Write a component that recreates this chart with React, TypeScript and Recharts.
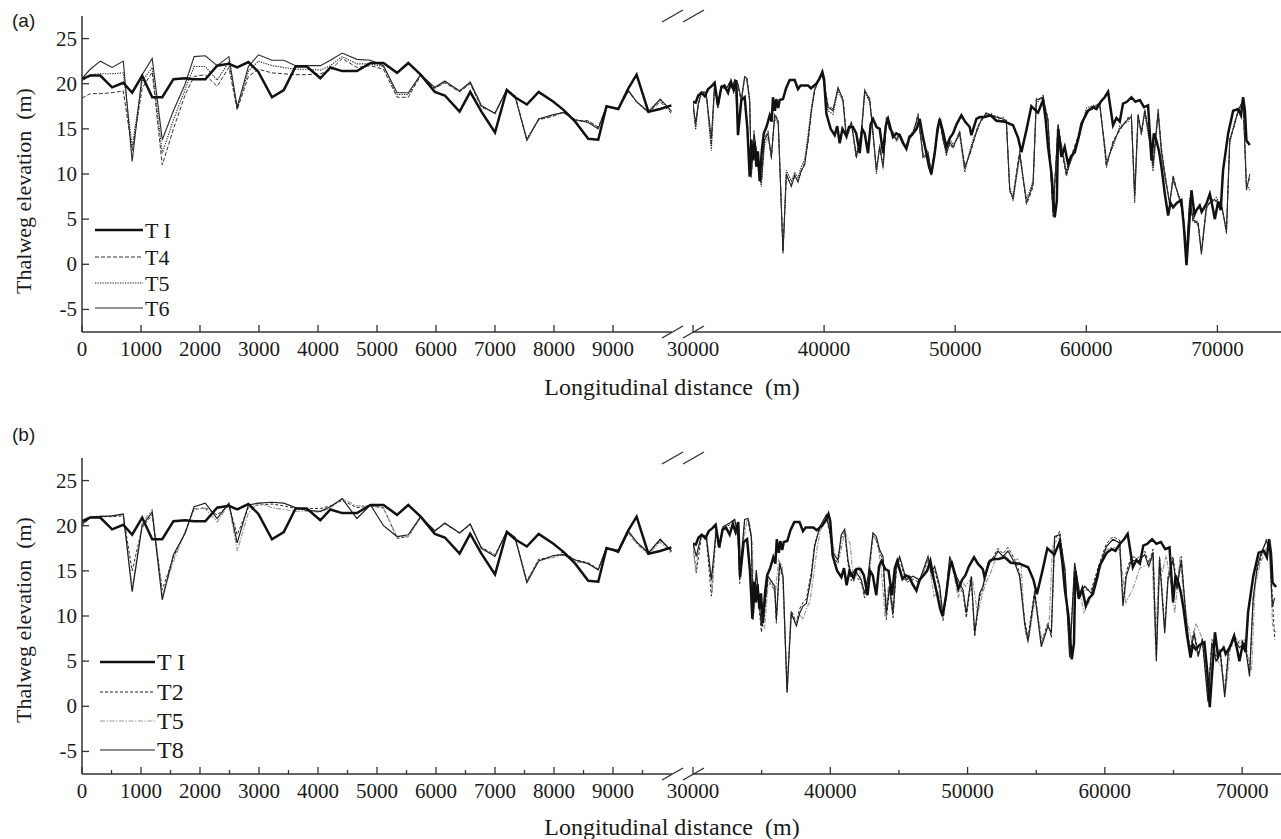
import React from 'react';
import { LineChart, Line, XAxis, YAxis } from 'recharts';

// ---------- data: left segment (0 - 10000 m), common cross-section stations ----------
const LEFT_X = [0, 140, 310, 510, 700, 850, 1020, 1190, 1360, 1550, 1750, 1900, 2090, 2290, 2490, 2630, 2820, 2990, 3220, 3420, 3620, 3810, 4040, 4210, 4410, 4660, 4890, 5110, 5340, 5530, 5740, 5980, 6150, 6400, 6580, 6770, 7000, 7200, 7340, 7540, 7740, 7990, 8160, 8360, 8580, 8750, 8890, 9090, 9260, 9400, 9600, 9800, 9990];

const TI_LEFT = [20.5, 20.9, 20.9, 19.6, 20.1, 19.0, 20.9, 18.5, 18.5, 20.5, 20.6, 20.5, 20.5, 22.0, 22.2, 21.8, 22.4, 21.3, 18.5, 19.3, 21.9, 21.9, 20.6, 21.8, 21.4, 21.4, 22.3, 22.3, 21.2, 22.3, 21.0, 19.1, 18.7, 16.9, 19.1, 16.9, 14.6, 19.3, 18.5, 17.7, 19.1, 18.0, 17.1, 15.8, 13.9, 13.8, 17.5, 17.2, 19.5, 21.0, 16.9, 17.2, 17.6];
const T4_LEFT = [18.4, 18.9, 18.9, 19.0, 19.2, 12.6, 19.5, 21.3, 11.0, 15.0, 18.8, 20.8, 21.0, 19.7, 21.8, 17.1, 20.8, 21.6, 21.2, 21.1, 21.0, 21.0, 21.1, 21.5, 22.8, 21.8, 22.0, 21.6, 18.5, 18.5, 20.9, 19.5, 20.1, 19.1, 20.0, 17.4, 16.8, 19.3, 18.7, 13.8, 16.0, 16.4, 16.9, 15.9, 15.9, 15.2, 17.4, 17.2, 19.1, 18.0, 16.8, 18.0, 16.7];
const T5_LEFT = [20.3, 21.0, 21.1, 21.1, 21.2, 13.0, 20.3, 21.8, 12.3, 16.0, 19.4, 21.9, 21.9, 20.4, 22.4, 17.2, 21.4, 22.5, 22.0, 21.8, 21.6, 21.6, 21.5, 22.0, 23.0, 22.2, 22.2, 21.9, 18.8, 18.8, 21.0, 19.5, 20.2, 19.2, 20.1, 17.5, 16.7, 19.3, 18.6, 13.9, 16.1, 16.5, 16.8, 16.0, 15.8, 15.1, 17.5, 17.2, 19.2, 18.0, 16.8, 18.2, 16.9];
const T6_LEFT = [20.6, 21.6, 22.5, 21.8, 22.5, 11.4, 21.0, 22.8, 13.8, 17.0, 20.0, 23.0, 23.1, 22.0, 23.0, 17.4, 21.9, 23.2, 22.6, 22.6, 22.0, 22.0, 22.0, 22.6, 23.4, 22.7, 22.6, 22.0, 19.0, 19.0, 21.0, 19.6, 20.3, 19.2, 20.2, 17.6, 16.7, 19.4, 18.6, 13.7, 16.1, 16.6, 16.8, 16.0, 15.7, 15.0, 17.5, 17.2, 19.3, 18.0, 16.9, 18.3, 17.0];
const T2_LEFT = [20.0, 20.9, 21.0, 21.0, 21.1, 15.0, 19.8, 21.2, 12.9, 16.5, 19.3, 21.8, 22.0, 21.2, 22.2, 19.0, 22.0, 22.3, 22.4, 22.2, 21.9, 21.9, 21.9, 22.2, 22.8, 22.0, 22.2, 22.0, 18.6, 18.8, 20.9, 19.5, 20.2, 19.2, 20.1, 17.6, 16.8, 19.3, 18.7, 13.9, 16.3, 16.5, 17.1, 16.2, 15.9, 15.2, 17.5, 17.1, 19.2, 18.1, 16.9, 18.4, 17.1];
const T8_LEFT = [20.2, 20.9, 21.0, 21.1, 21.3, 12.7, 20.0, 21.5, 11.8, 16.8, 19.2, 22.1, 22.5, 20.8, 22.5, 18.1, 22.3, 22.5, 22.6, 22.5, 22.0, 21.7, 21.6, 22.1, 23.0, 20.8, 22.3, 20.0, 18.8, 19.0, 21.0, 19.4, 20.3, 19.2, 20.2, 17.5, 16.6, 19.4, 18.7, 13.7, 16.1, 16.7, 16.8, 16.2, 15.8, 15.1, 17.6, 17.0, 19.4, 18.2, 17.0, 18.5, 17.2];

// ---------- data: right segment (30000 m - end), [distance, elevation] ----------
const TI_RIGHT = [[30000,18.0],[30200,17.9],[30400,18.7],[30640,19.0],[30900,18.6],[31150,19.4],[31400,19.7],[31650,20.1],[31900,17.6],[32160,19.6],[32400,19.8],[32670,19.0],[32900,20.2],[33100,19.3],[33300,20.4],[33430,14.3],[33690,18.2],[33940,18.5],[34150,15.0],[34323,9.7],[34450,13.8],[34577,11.5],[34700,13.5],[34832,10.8],[34950,12.5],[35086,9.2],[35250,12.6],[35400,14.5],[35600,15.2],[35850,16.5],[36000,15.8],[36103,18.5],[36250,17.0],[36358,18.3],[36500,17.3],[36612,18.2],[36866,18.3],[37100,19.5],[37375,20.4],[37756,20.4],[38010,19.4],[38200,19.8],[38392,19.8],[38773,19.8],[39000,19.5],[39409,20.0],[39663,20.6],[39867,21.3],[40000,20.5],[40172,16.7],[40500,15.0],[40808,14.3],[41000,15.3],[41189,13.4],[41400,15.0],[41698,14.2],[41900,15.2],[42206,15.2],[42450,14.5],[42715,12.3],[42900,15.0],[43096,14.5],[43351,12.3],[43550,15.5],[43732,16.1],[44000,15.2],[44241,15.0],[44495,12.3],[44700,15.3],[44877,16.1],[45258,14.1],[45500,14.5],[45767,14.3],[46000,13.5],[46275,12.8],[46500,14.0],[46784,14.5],[47050,15.0],[47292,16.1],[47550,14.0],[47801,12.3],[48000,10.8],[48182,10.0],[48437,12.3],[48650,15.0],[48818,16.1],[49100,14.5],[49327,13.0],[49600,14.0],[49835,14.5],[50100,15.5],[50471,16.5],[50750,15.8],[51107,15.2],[51234,14.3],[51616,16.1],[51870,16.3],[52250,16.3],[52700,16.5],[53140,15.9],[53780,15.8],[54410,15.4],[54800,14.0],[55050,12.4],[55450,15.0],[55810,17.5],[56320,16.8],[56700,18.2],[56900,16.0],[57080,13.0],[57350,10.0],[57590,5.2],[57750,7.0],[57850,15.0],[58100,11.9],[58350,13.0],[58610,11.1],[58850,12.0],[59120,12.4],[59400,14.0],[59630,15.6],[60130,17.0],[60500,17.4],[60770,17.2],[61100,18.0],[61400,18.5],[61660,19.1],[62040,15.4],[62300,16.2],[62550,15.8],[62800,17.8],[63100,18.0],[63440,18.5],[63750,18.0],[64080,18.2],[64400,17.4],[64710,17.6],[64970,11.5],[65150,14.5],[65350,13.7],[65550,12.5],[65730,10.8],[65990,7.8],[66240,5.4],[66420,6.8],[66620,6.3],[66900,6.8],[67250,7.1],[67450,4.0],[67640,-0.1],[68020,8.2],[68250,5.5],[68400,6.0],[68650,6.5],[68800,5.8],[69160,6.7],[69420,7.8],[69650,6.2],[69800,5.0],[70050,6.9],[70250,6.0],[70430,10.4],[70820,14.5],[71200,17.0],[71580,17.2],[71800,16.5],[71960,18.5],[72100,17.0],[72215,13.7],[72470,13.2]];

const T4_RIGHT = [[30000,17.9],[30200,15.2],[30400,17.7],[30640,19.1],[31000,19.1],[31400,13.2],[31650,20.1],[31900,17.3],[32160,19.7],[32500,19.3],[32800,20.2],[33000,19.4],[33180,20.5],[33430,19.6],[33690,18.0],[33940,20.7],[34100,20.7],[34320,18.4],[34450,9.6],[34650,14.8],[34900,11.6],[35210,9.0],[35450,13.9],[35720,14.8],[35980,11.6],[36230,16.7],[36500,16.0],[36866,1.4],[37120,9.8],[37500,8.8],[37760,9.7],[38010,9.3],[38260,10.2],[38520,11.3],[38770,13.4],[39030,16.8],[39280,19.2],[39660,20.8],[39870,21.2],[40300,17.6],[40680,17.2],[41060,19.4],[41440,18.4],[41700,14.3],[42080,15.6],[42460,11.7],[42840,14.7],[43100,19.1],[43480,18.4],[43730,14.3],[43990,10.6],[44240,12.8],[44500,11.0],[44750,16.3],[45000,14.8],[45260,14.7],[45500,13.6],[45770,14.1],[46000,13.3],[46280,13.2],[46500,14.4],[46780,14.3],[47170,16.7],[47550,11.7],[47930,12.1],[48180,10.3],[48560,13.9],[48820,16.3],[49050,13.8],[49330,12.5],[49600,13.3],[49840,12.8],[50340,14.8],[50730,10.9],[51110,12.1],[51360,13.3],[51740,15.4],[52000,15.8],[52380,16.9],[52760,16.3],[53140,16.5],[53650,15.9],[53900,16.1],[54160,8.0],[54410,7.6],[54920,12.6],[55430,6.6],[55680,7.5],[55940,8.6],[56190,18.4],[56700,18.3],[57080,16.2],[57460,5.3],[57850,15.6],[58100,12.8],[58480,9.7],[58990,12.6],[59500,14.7],[60000,16.8],[60520,17.2],[61020,18.0],[61400,12.7],[61530,10.7],[62040,13.7],[62550,14.8],[63190,16.3],[63440,16.1],[63690,7.8],[63950,16.7],[64200,14.3],[64460,17.2],[64840,13.9],[65090,11.1],[65480,17.2],[65730,12.9],[65990,10.2],[66360,6.5],[66620,9.9],[67130,6.9],[67380,5.8],[67640,1.0],[67890,6.9],[68150,4.6],[68530,4.8],[68780,1.3],[69160,6.1],[69540,7.3],[69920,6.9],[70300,6.9],[70690,3.4],[70940,13.9],[71320,15.4],[71580,17.2],[71960,18.0],[72215,8.6],[72470,9.5]];

const T5_RIGHT = [[30000,17.6],[30200,14.9],[30400,17.6],[30640,18.9],[31000,18.9],[31400,12.6],[31650,19.8],[31900,17.6],[32160,19.6],[32500,19.5],[32800,20.0],[33000,19.6],[33180,20.3],[33430,15.5],[33690,18.5],[33940,20.6],[34100,20.5],[34320,18.0],[34450,10.3],[34650,14.0],[34900,11.2],[35210,8.6],[35450,13.2],[35720,14.0],[35980,12.2],[36230,16.2],[36500,15.5],[36866,1.6],[37120,10.4],[37500,9.2],[37760,10.2],[38010,9.6],[38260,10.8],[38520,11.6],[38770,14.3],[39030,17.4],[39280,19.5],[39660,20.5],[39870,21.0],[40300,17.0],[40680,16.6],[41060,19.3],[41440,18.0],[41700,13.8],[42080,15.5],[42460,12.2],[42840,14.2],[43100,19.0],[43480,18.0],[43730,14.8],[43990,10.0],[44240,13.3],[44500,10.5],[44750,15.8],[45000,15.2],[45260,14.2],[45500,14.0],[45770,14.5],[46000,13.8],[46280,12.8],[46500,14.0],[46780,14.8],[47170,16.2],[47550,12.2],[47930,12.6],[48180,9.8],[48560,13.4],[48820,15.8],[49050,14.2],[49330,12.0],[49600,13.8],[49840,13.3],[50340,14.3],[50730,10.2],[51110,12.6],[51360,13.8],[51740,15.0],[52000,16.2],[52380,16.5],[52760,16.7],[53140,16.0],[53650,16.3],[53900,15.6],[54160,8.6],[54410,7.0],[54920,12.0],[55430,7.3],[55680,8.1],[55940,9.3],[56190,17.8],[56700,18.7],[57080,15.5],[57460,6.0],[57850,15.0],[58100,13.3],[58480,10.4],[58990,12.0],[59500,14.2],[60000,17.3],[60520,17.6],[61020,17.5],[61400,13.4],[61530,11.5],[62040,13.0],[62550,15.3],[63190,15.8],[63440,16.5],[63690,6.8],[63950,16.2],[64200,14.8],[64460,16.7],[64840,13.3],[65090,10.3],[65480,16.6],[65730,12.2],[65990,9.5],[66360,7.0],[66620,9.2],[67130,7.4],[67380,5.2],[67640,1.6],[67890,7.4],[68150,5.2],[68530,4.2],[68780,1.5],[69160,6.6],[69540,6.8],[69920,7.4],[70300,6.4],[70690,4.0],[70940,13.3],[71320,15.9],[71580,16.7],[71960,18.4],[72215,9.0],[72470,8.2]];

const T6_RIGHT = [[30000,17.8],[30200,15.6],[30400,17.8],[30640,19.0],[31000,19.0],[31400,13.9],[31650,20.0],[31900,17.4],[32160,19.8],[32500,19.4],[32800,20.1],[33000,19.5],[33180,20.4],[33430,20.0],[33690,18.2],[33940,20.8],[34100,20.6],[34320,18.2],[34450,9.9],[34650,14.5],[34900,11.9],[35210,9.3],[35450,13.7],[35720,14.5],[35980,11.9],[36230,16.5],[36500,15.8],[36866,1.2],[37120,10.0],[37500,8.6],[37760,9.9],[38010,9.1],[38260,10.4],[38520,11.0],[38770,13.7],[39030,17.0],[39280,19.3],[39660,20.7],[39870,21.1],[40300,17.4],[40680,17.0],[41060,19.6],[41440,18.2],[41700,14.1],[42080,15.8],[42460,11.9],[42840,14.5],[43100,19.3],[43480,18.2],[43730,14.5],[43990,10.4],[44240,13.0],[44500,10.8],[44750,16.1],[45000,15.0],[45260,14.5],[45500,13.8],[45770,14.3],[46000,13.5],[46280,13.0],[46500,14.2],[46780,14.5],[47170,16.5],[47550,11.9],[47930,12.3],[48180,10.0],[48560,13.7],[48820,16.1],[49050,14.0],[49330,12.3],[49600,13.5],[49840,13.0],[50340,14.6],[50730,10.6],[51110,12.3],[51360,13.5],[51740,15.2],[52000,16.0],[52380,16.7],[52760,16.5],[53140,16.3],[53650,16.1],[53900,15.9],[54160,8.2],[54410,7.3],[54920,12.3],[55430,6.9],[55680,7.8],[55940,8.9],[56190,18.2],[56700,18.5],[57080,15.9],[57460,5.6],[57850,15.4],[58100,13.0],[58480,10.0],[58990,12.3],[59500,14.5],[60000,17.0],[60520,17.4],[61020,17.8],[61400,13.0],[61530,11.0],[62040,13.4],[62550,15.0],[63190,16.1],[63440,16.3],[63690,7.5],[63950,16.5],[64200,14.5],[64460,17.0],[64840,13.7],[65090,10.8],[65480,17.0],[65730,12.6],[65990,9.9],[66360,6.7],[66620,9.6],[67130,7.1],[67380,5.6],[67640,1.2],[67890,7.1],[68150,4.9],[68530,4.5],[68780,1.1],[69160,6.3],[69540,7.1],[69920,7.1],[70300,6.7],[70690,3.6],[70940,13.7],[71320,15.6],[71580,17.0],[71960,18.2],[72215,8.2],[72470,10.0]];

const T2_RIGHT = [[30000,17.8],[30240,14.8],[30610,18.8],[30970,18.6],[31340,12.2],[31700,19.4],[31950,17.5],[32190,19.7],[32670,20.1],[33040,20.5],[33280,18.5],[33400,13.6],[33760,20.4],[34010,20.6],[34250,18.5],[34370,9.6],[34610,14.6],[34980,8.2],[35220,10.6],[35460,14.0],[35950,12.8],[36070,9.2],[36310,15.5],[36560,14.0],[36850,1.8],[37160,10.6],[37530,9.3],[37770,10.8],[38010,11.5],[38260,11.9],[38620,14.9],[38860,18.0],[39230,19.6],[39710,20.9],[39950,19.2],[40200,16.6],[40560,15.8],[40800,18.6],[41050,19.3],[41290,15.8],[41530,13.9],[41780,14.7],[42260,13.6],[42500,12.0],[42750,14.0],[43110,18.9],[43350,18.4],[43600,17.0],[43840,16.2],[44080,9.6],[44320,13.0],[44570,9.8],[44810,15.1],[45050,16.3],[45540,13.7],[46020,14.1],[46510,13.7],[47120,16.3],[47360,14.4],[47600,15.1],[47970,12.9],[48210,9.5],[48450,12.1],[48700,16.3],[49180,14.0],[49670,12.5],[49910,9.8],[50270,14.0],[50520,7.7],[50880,12.1],[51120,13.0],[51490,15.5],[51850,16.5],[52220,17.5],[52580,16.9],[52940,17.6],[53430,16.3],[53790,14.8],[54160,9.6],[54400,7.6],[54890,12.9],[55370,7.0],[55860,9.3],[56100,7.6],[56340,18.4],[56710,19.4],[57100,14.6],[57440,5.8],[57800,15.5],[58160,12.1],[58530,12.9],[59010,12.9],[59620,15.9],[60110,18.0],[60590,18.8],[61080,18.4],[61320,11.6],[61560,14.9],[61930,16.6],[62400,16.4],[62900,17.2],[63200,15.9],[63510,17.4],[63750,5.6],[63990,16.6],[64360,8.6],[64600,14.4],[64960,16.6],[65250,13.4],[65570,16.6],[65930,9.2],[66200,6.4],[66500,8.4],[66800,5.9],[67100,7.1],[67300,4.4],[67510,1.0],[67800,7.4],[68100,5.4],[68400,6.4],[68730,1.5],[69000,6.4],[69400,7.9],[69800,6.9],[70200,7.4],[70540,3.8],[70800,11.6],[71100,15.1],[71400,16.6],[71760,18.5],[72000,18.4],[72200,12.0],[72370,7.4]];

const T8_RIGHT = [[30000,18.1],[30240,16.6],[30610,19.0],[30970,18.8],[31340,14.0],[31700,19.6],[31950,17.8],[32190,19.9],[32670,20.3],[33040,20.7],[33280,18.8],[33400,14.4],[33760,20.7],[34010,20.8],[34250,18.8],[34370,10.0],[34610,15.1],[34980,8.9],[35220,11.1],[35460,14.4],[35950,13.3],[36070,9.6],[36310,15.9],[36560,14.4],[36850,1.5],[37160,10.3],[37530,8.9],[37770,10.3],[38010,11.1],[38260,11.4],[38620,14.4],[38860,17.7],[39230,19.9],[39710,21.2],[39950,19.6],[40200,17.0],[40560,16.2],[40800,19.0],[41050,19.6],[41290,16.2],[41530,14.4],[41780,15.1],[42260,14.0],[42500,12.5],[42750,14.4],[43110,19.2],[43350,18.8],[43600,17.3],[43840,16.6],[44080,10.3],[44320,13.3],[44570,10.3],[44810,15.5],[45050,16.6],[45540,14.0],[46020,14.4],[46510,14.0],[47120,16.6],[47360,14.8],[47600,15.5],[47970,13.3],[48210,10.0],[48450,12.5],[48700,16.6],[49180,14.4],[49670,12.9],[49910,10.3],[50270,14.4],[50520,8.1],[50880,12.5],[51120,13.3],[51490,15.9],[51850,16.2],[52220,17.2],[52580,16.6],[52940,17.2],[53430,15.9],[53790,14.4],[54160,9.2],[54400,7.2],[54890,12.5],[55370,6.6],[55860,8.9],[56100,8.1],[56340,18.8],[56710,19.0],[57100,15.0],[57440,5.4],[57800,15.9],[58160,12.5],[58530,13.3],[59010,12.5],[59620,15.5],[60110,17.7],[60590,18.5],[61080,18.1],[61320,11.1],[61560,14.4],[61930,16.2],[62400,16.0],[62900,16.8],[63200,15.5],[63510,17.0],[63750,5.0],[63990,16.2],[64360,8.1],[64600,14.0],[64960,16.2],[65250,13.0],[65570,16.2],[65930,9.6],[66200,6.0],[66500,8.0],[66800,5.5],[67100,7.5],[67300,4.0],[67510,0.5],[67800,7.0],[68100,5.0],[68400,6.0],[68730,1.0],[69000,6.0],[69400,7.5],[69800,6.5],[70200,7.0],[70540,3.3],[70800,12.0],[71100,15.5],[71400,17.0],[71760,18.3],[72000,17.5],[72200,11.0],[72370,12.0]];

// ---------- ticks ----------
const Y_TICKS = [-5, 0, 5, 10, 15, 20, 25];
const LEFT_MAJOR = [0, 1000, 2000, 3000, 4000, 5000, 6000, 7000, 8000, 9000];
const LEFT_MINOR = [500, 1500, 2500, 3500, 4500, 5500, 6500, 7500, 8500, 9500];
const RIGHT_MAJOR = [30000, 40000, 50000, 60000, 70000];
const RIGHT_MINOR = [35000, 45000, 55000, 65000];

const SERIF = 'Liberation Serif, Times New Roman, serif';
const SANS = 'Liberation Sans, Arial, sans-serif';
const AXIS = '#333';
const INK = '#1a1a1a';
const TICK_FONT = 21;

const leftPts = (ys: number[]) => LEFT_X.map((x, i) => ({ x, y: ys[i] }));
const rightPts = (arr: number[][]) => arr.map(([x, y]) => ({ x, y }));

type SeriesDef = { name: string; left: number[]; right: number[][]; stroke: string; width: number; dash?: string };

const TI_DEF = { name: 'T I', left: TI_LEFT, right: TI_RIGHT, stroke: '#111', width: 2.5 };
const PANEL_A: SeriesDef[] = [
  { name: 'T4', left: T4_LEFT, right: T4_RIGHT, stroke: '#333', width: 1, dash: '4 2' },
  { name: 'T5', left: T5_LEFT, right: T5_RIGHT, stroke: '#222', width: 1.1, dash: '1.3 1.2' },
  { name: 'T6', left: T6_LEFT, right: T6_RIGHT, stroke: '#2a2a2a', width: 1.1 },
  TI_DEF,
];
const PANEL_B: SeriesDef[] = [
  { name: 'T2', left: T2_LEFT, right: T2_RIGHT, stroke: '#222', width: 1, dash: '3 2' },
  { name: 'T5', left: T5_LEFT, right: T5_RIGHT, stroke: '#9a9a9a', width: 1.2, dash: '5 1.5 1.5 1.5' },
  { name: 'T8', left: T8_LEFT, right: T8_RIGHT, stroke: '#1f1f1f', width: 1.2 },
  TI_DEF,
];

const txt = (size: number, family = SERIF) => ({ fontFamily: family, fontSize: size, fill: INK });

const makeXTick = (majors: number[]) => (props: any) => {
  const { x, y, payload } = props;
  const v = payload.value;
  const major = majors.includes(v);
  return (
    <g>
      <line x1={x} x2={x} y1={y} y2={y - (major ? 7 : 4)} stroke={AXIS} strokeWidth={1.3} />
      {major && (
        <text x={x} y={y + 17} textAnchor="middle" dominantBaseline="central" style={txt(TICK_FONT)}>
          {v}
        </text>
      )}
    </g>
  );
};

const YTick = (props: any) => {
  const { x, y, payload } = props;
  return (
    <g>
      <line x1={x} x2={x + 7} y1={y} y2={y} stroke={AXIS} strokeWidth={1.3} />
      <text x={x - 5} y={y} textAnchor="end" dominantBaseline="central" style={txt(TICK_FONT)}>
        {payload.value}
      </text>
    </g>
  );
};

const CH_H = 380;
const X_AX_H = 48;

function Panel({ top, series, rightMax, minor }: { top: number; series: SeriesDef[]; rightMax: number; minor: boolean }) {
  const leftTicks = minor ? [...LEFT_MAJOR, ...LEFT_MINOR].sort((a, b) => a - b) : LEFT_MAJOR;
  const rightTicks = minor ? [...RIGHT_MAJOR, ...RIGHT_MINOR].sort((a, b) => a - b) : RIGHT_MAJOR;
  return (
    <>
      <div style={{ position: 'absolute', left: 0, top }}>
        <LineChart width={680} height={CH_H} margin={{ top: 16, right: 8, bottom: 0, left: 0 }}>
          <XAxis xAxisId="b" dataKey="x" type="number" domain={[0, 10000]} allowDataOverflow ticks={leftTicks} interval={0}
            tickSize={0} tickMargin={0} height={X_AX_H} tickLine={false} tick={makeXTick(LEFT_MAJOR)}
            axisLine={{ stroke: AXIS, strokeWidth: 1.5 }} />
          <XAxis xAxisId="t" orientation="top" type="number" domain={[0, 10000]} height={0} tick={false} tickLine={false}
            axisLine={{ stroke: AXIS, strokeWidth: 1.5 }} />
          <YAxis type="number" domain={[-7.5, 27.5]} ticks={Y_TICKS} interval={0} width={82} tickSize={0} tickMargin={0}
            tickLine={false} tick={YTick} axisLine={{ stroke: AXIS, strokeWidth: 1.5 }} allowDataOverflow />
          {series.map((s) => (
            <Line key={s.name} xAxisId="b" data={leftPts(s.left)} dataKey="y" type="linear" dot={false} activeDot={false}
              stroke={s.stroke} strokeWidth={s.width} strokeDasharray={s.dash} isAnimationActive={false} />
          ))}
        </LineChart>
      </div>
      <div style={{ position: 'absolute', left: 653, top }}>
        <LineChart width={628} height={CH_H} margin={{ top: 16, right: 0, bottom: 0, left: 40 }}>
          <XAxis xAxisId="b" dataKey="x" type="number" domain={[30000, rightMax]} allowDataOverflow ticks={rightTicks} interval={0}
            tickSize={0} tickMargin={0} height={X_AX_H} tickLine={false} tick={makeXTick(RIGHT_MAJOR)}
            axisLine={{ stroke: AXIS, strokeWidth: 1.5 }} />
          <XAxis xAxisId="t" orientation="top" type="number" domain={[30000, rightMax]} height={0} tick={false} tickLine={false}
            axisLine={{ stroke: AXIS, strokeWidth: 1.5 }} />
          <YAxis type="number" domain={[-7.5, 27.5]} hide allowDataOverflow />
          {series.map((s) => (
            <Line key={s.name} xAxisId="b" data={rightPts(s.right)} dataKey="y" type="linear" dot={false} activeDot={false}
              stroke={s.stroke} strokeWidth={s.width} strokeDasharray={s.dash} isAnimationActive={false} />
          ))}
        </LineChart>
      </div>
    </>
  );
}

function Breaks({ y }: { y: number }) {
  return (
    <g stroke={AXIS} strokeWidth={1.4}>
      <line x1={662} y1={y + 6} x2={683} y2={y - 6} />
      <line x1={683} y1={y + 6} x2={704} y2={y - 6} />
    </g>
  );
}

function LegendBox({ x0, x1, ys, items, fontSize }: { x0: number; x1: number; ys: number[]; items: SeriesDef[]; fontSize: number }) {
  return (
    <g>
      {items.map((s, i) => (
        <g key={s.name + i}>
          <line x1={x0} x2={x1} y1={ys[i]} y2={ys[i]} stroke={s.stroke} strokeWidth={s.width} strokeDasharray={s.dash} />
          <text x={x1 + 2} y={ys[i]} dominantBaseline="central" style={txt(fontSize)}>{s.name}</text>
        </g>
      ))}
    </g>
  );
}

export default function App() {
  const legendA = [TI_DEF, PANEL_A[0], PANEL_A[1], PANEL_A[2]];
  const legendB = [TI_DEF, PANEL_B[0], PANEL_B[1], PANEL_B[2]];
  return (
    <div style={{ position: 'absolute', left: 0, top: 0, width: 1281, height: 839, background: '#fff', overflow: 'hidden' }}>
      <Panel top={0} series={PANEL_A} rightMax={74850} minor={false} />
      <Panel top={442} series={PANEL_B} rightMax={72830} minor={true} />
      <svg width={1281} height={839} style={{ position: 'absolute', left: 0, top: 0, pointerEvents: 'none' }}>
        <text x={12} y={20} dominantBaseline="central" style={txt(19, SANS)}>(a)</text>
        <text x={12} y={434} dominantBaseline="central" style={txt(19, SANS)}>(b)</text>
        <text transform="translate(23,191) rotate(-90)" textAnchor="middle" dominantBaseline="central" style={txt(22)}>Thalweg elevation{'\u2002'}(m)</text>
        <text transform="translate(23,620) rotate(-90)" textAnchor="middle" dominantBaseline="central" style={txt(22)}>Thalweg elevation{'\u2002'}(m)</text>
        <text x={672} y={387} textAnchor="middle" dominantBaseline="central" style={txt(24)}>Longitudinal distance{'\u2002'}(m)</text>
        <text x={672} y={827} textAnchor="middle" dominantBaseline="central" style={txt(24)}>Longitudinal distance{'\u2002'}(m)</text>
        <Breaks y={16} />
        <Breaks y={332} />
        <Breaks y={458} />
        <Breaks y={774} />
        <LegendBox x0={95} x1={143} ys={[230, 257, 283, 308]} items={legendA} fontSize={22} />
        <LegendBox x0={100} x1={155} ys={[662, 692, 721, 750]} items={legendB} fontSize={24} />
      </svg>
    </div>
  );
}
